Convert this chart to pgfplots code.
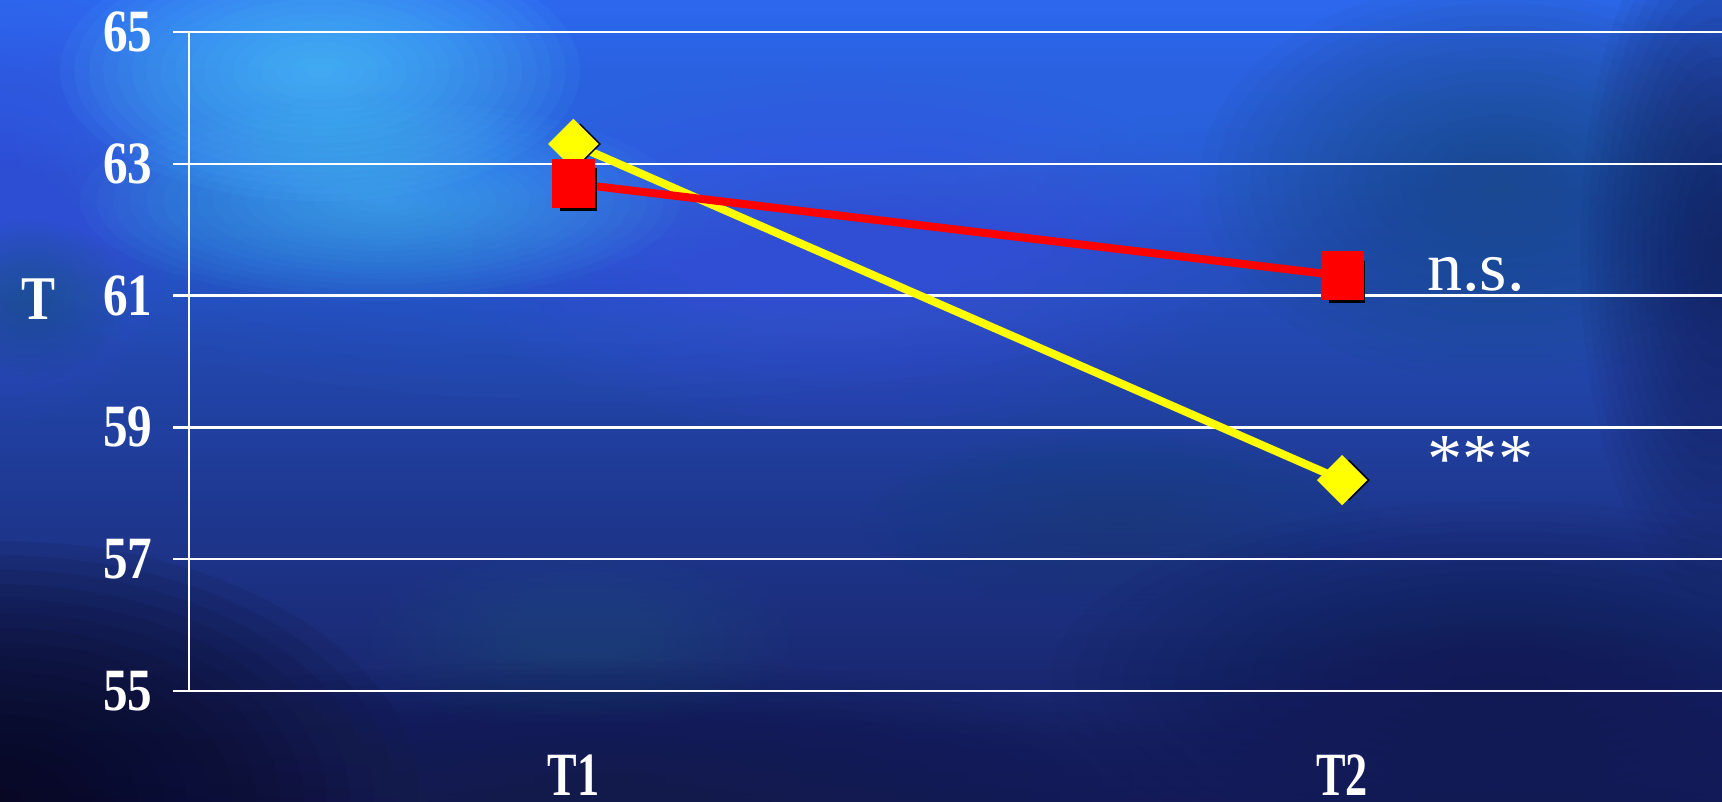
\documentclass[border=0pt]{standalone}
\usepackage{pgfplots}
\pgfplotsset{compat=1.18}
\usepackage{fontspec}
\setmainfont{Liberation Serif}

\definecolor{bgtop}{RGB}{44,104,238}
\definecolor{bgmid}{RGB}{36,66,185}
\definecolor{bgbot}{RGB}{22,28,90}
\definecolor{glowcyan}{RGB}{80,205,255}
\definecolor{glowblue}{RGB}{50,125,250}
\definecolor{glowviolet}{RGB}{70,78,235}
\definecolor{tealdark}{RGB}{26,72,118}
\definecolor{tealsoft}{RGB}{30,85,135}
\definecolor{navyedge}{RGB}{18,26,75}
\definecolor{nightblue}{RGB}{8,8,30}
\definecolor{seriesred}{RGB}{255,0,0}
\definecolor{seriesyellow}{RGB}{255,255,0}

% soft glow built from stacked translucent ellipses
% #1 colour, #2 opacity per layer, #3 x, #4 y, #5 x radius, #6 y radius (mm)
\newcommand{\glow}[6]{%
  \foreach \i in {1,...,18}{%
    \fill[#1, opacity=#2] (#3mm,#4mm) ellipse ({#5mm*\i/18} and {#6mm*\i/18});}}

\begin{document}
\begin{tikzpicture}
\clip (0,0) rectangle (172.2mm,80.1mm);
% backdrop
\shade[top color=bgtop, middle color=bgmid, bottom color=bgbot] (0,0) rectangle (172.2mm,80.1mm);
\glow{glowblue}{0.035}{60}{66}{75}{26}
\glow{glowviolet}{0.045}{85}{55}{40}{18}
\glow{glowviolet}{0.04}{0}{60}{18}{22}
\glow{glowcyan}{0.065}{32}{73}{26}{13}
\glow{glowcyan}{0.045}{38}{60}{30}{10}
\glow{tealsoft}{0.05}{3}{50}{10}{8}
\glow{tealdark}{0.05}{150}{62}{30}{20}
\glow{navyedge}{0.06}{172}{55}{14}{35}
\glow{tealdark}{0.04}{112}{28}{26}{9}
\glow{tealsoft}{0.035}{58}{16}{22}{9}
\glow{navyedge}{0.05}{150}{12}{45}{18}
\glow{nightblue}{0.09}{0}{0}{42}{26}
\glow{navyedge}{0.05}{60}{2}{60}{12}

\begin{axis}[
  at={(18.9mm,11mm)}, anchor=south west,
  scale only axis, width=153.75mm, height=65.9mm,
  xmin=0.5, xmax=2.5, ymin=55, ymax=65,
  clip=false,
  axis lines*=left,
  axis line style={white, line width=0.7pt},
  tick align=outside,
  major tick length=1.6mm,
  tick style={white, line width=0.7pt},
  ytick={55,57,...,65},
  xtick={1,2},
  xticklabels={\scalebox{0.9}[1.25]{T1},\scalebox{0.9}[1.25]{T2}},
  xtick style={draw=none},
  extra x ticks={0.5,1.5,2.5}, extra x tick labels={},
  extra x tick style={tick style={white, line width=0.7pt}, major tick length=1.6mm},
  ymajorgrids,
  grid style={white, line width=0.7pt},
  /pgf/number format/assume math mode=true,
  yticklabel style={font=\bfseries\fontsize{14}{14}\selectfont, text=white, inner sep=2mm},
  yticklabel={\scalebox{1}[1.22]{\pgfmathprintnumber{\tick}}},
  xticklabel style={font=\bfseries\fontsize{14}{14}\selectfont, text=white, inner sep=0pt, yshift=-4.7mm},
  ylabel={\scalebox{1}[1.22]{T}},
  ylabel style={font=\bfseries\fontsize{14.5}{14.5}\selectfont, text=white, rotate=-90,
    at={(axis description cs:-0.098,0.595)}, anchor=center},
]
% yellow series: shadow, then line and markers
\addplot[draw=none, mark=square*, mark size=1.38mm,
  mark options={fill=black, draw=none, rotate=45, xshift=0.5mm, yshift=-0.5mm}]
  coordinates {(1,63.3) (2,58.2)};
\addplot[seriesyellow, line width=0.8mm, mark=square*, mark size=1.38mm,
  mark options={fill=seriesyellow, draw=none, rotate=45}]
  coordinates {(1,63.3) (2,58.2)};
% red series: shadow, then line and markers
\addplot[draw=none, mark=square*, mark size=1.75mm,
  mark options={fill=black, draw=none, yscale=1.17, xshift=0.5mm, yshift=-0.5mm}]
  coordinates {(1,62.7) (2,61.3)};
\addplot[seriesred, line width=0.8mm, mark=square*, mark size=1.75mm,
  mark options={fill=seriesred, draw=none, yscale=1.17}]
  coordinates {(1,62.7) (2,61.3)};
% significance labels
\node[text=white, font=\fontsize{20}{20}\selectfont, anchor=base, inner sep=0pt]
  at (axis cs:2.174,61.07) {n.s.};
\node[text=white, font=\fontsize{20}{20}\selectfont, anchor=center, inner sep=0pt]
  at (axis cs:2.18,58.52) {***};
\end{axis}
\end{tikzpicture}
\end{document}
